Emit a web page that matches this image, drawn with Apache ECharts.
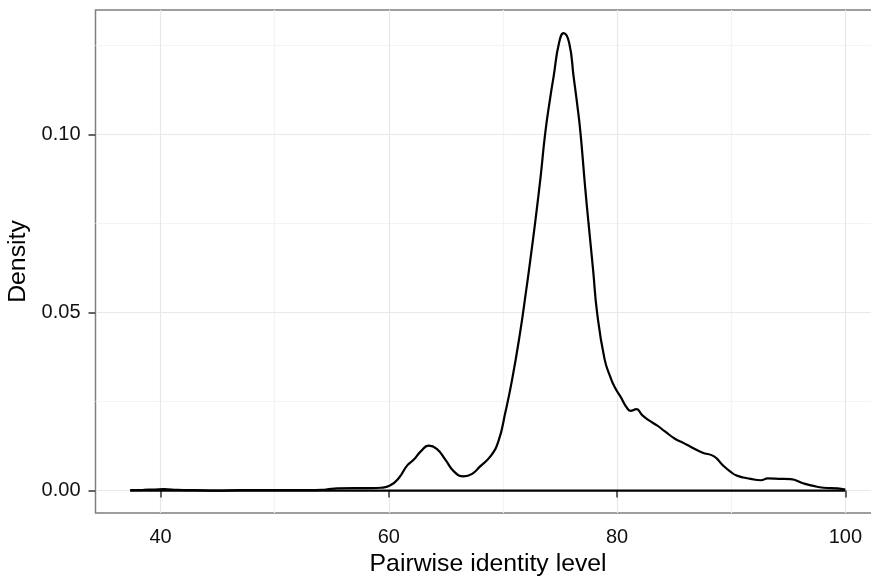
<!DOCTYPE html>
<html>
<head>
<meta charset="utf-8">
<script src="https://cdn.jsdelivr.net/npm/echarts@6/dist/echarts.min.js"></script>
<style>
html,body{margin:0;padding:0;background:#fff;}
#chart{width:871px;height:576px;}
</style>
</head>
<body>
<div id="chart"></div>
<script>
// Pairwise identity level (x) and estimated density (y)
const identityLevel = [37.34, 38.5, 39.5, 40.3, 41.5, 43, 45, 47, 49, 51, 53, 54.5, 55.5, 57, 58.5, 59.3,
  60.1, 60.9, 61.6, 62.2, 62.8, 63.5, 64.2, 64.95, 65.7, 66.55, 67.3, 68.0, 68.9, 69.6, 70.2, 70.8,
  71.5, 72.0, 72.4, 72.85, 73.3, 73.7, 74.15, 74.45, 74.9, 75.32, 75.8, 76.2, 76.5, 76.8,
  77.2, 77.5, 77.9, 78.25, 78.9, 79.4, 79.8, 80.3, 80.87, 81.17, 81.7, 82.2, 82.8, 83.5, 84.2, 85.1,
  85.8, 86.4, 87.45, 88.5, 89.3, 89.9, 90.5, 91.7, 92.6, 93.2, 94.2, 95.2, 96.35, 97.2, 98.1, 99.3, 100];
const density = [0.0001, 0.0002, 0.0003, 0.0004, 0.0002, 0.0001, 0.0000, 0.0001, 0.0001, 0.0001, 0.0001, 0.0003, 0.0006, 0.0007, 0.0007, 0.0008,
  0.0014, 0.0036, 0.0070, 0.0087, 0.0110, 0.0126, 0.0117, 0.0087, 0.0054, 0.0040, 0.0047, 0.0068, 0.0096, 0.0138, 0.0218, 0.0311,
  0.0443, 0.0554, 0.0648, 0.0760, 0.0881, 0.1003, 0.1105, 0.1165, 0.1255, 0.1285, 0.1258, 0.1161, 0.1087, 0.1003,
  0.0853, 0.0751, 0.0620, 0.0500, 0.0370, 0.0320, 0.0290, 0.0264, 0.0232, 0.0224, 0.0229, 0.0212, 0.0197, 0.0183, 0.0166, 0.0145,
  0.0134, 0.0124, 0.0107, 0.0096, 0.0070, 0.0054, 0.0042, 0.0033, 0.0029, 0.0034, 0.0033, 0.0032, 0.0020, 0.0013, 0.0008, 0.0006, 0.0003];
const xTicks = [40, 60, 80, 100];
const xMinorTicks = [50, 70, 90];
const yTicks = [0, 0.05, 0.10];
const yMinorTicks = [0.025, 0.075, 0.125];
const xRange = [34.3, 103.1];
const yRange = [-0.0063, 0.135];

const curve = identityLevel.map((x, i) => [x, density[i]]);
const baseline = [[identityLevel[0], 0], [identityLevel[identityLevel.length - 1], 0]];

const FONT = 'Liberation Sans, Arial, Helvetica, sans-serif';
const chart = echarts.init(document.getElementById('chart'), null, {renderer: 'canvas'});

function minorAxis(type, values) {
  const r = type === 'x' ? xRange : yRange;
  return {
    type: 'value', min: r[0], max: r[1], position: type === 'x' ? 'bottom' : 'left',
    axisLine: {show: false},
    axisTick: {show: false, customValues: values},
    axisLabel: {show: false, customValues: values},
    splitLine: {show: true, lineStyle: {color: '#F4F4F4', width: 1.2}},
    z: 0
  };
}

chart.setOption({
  animation: false,
  backgroundColor: '#ffffff',
  grid: {left: 95.5, top: 10, right: -9.7, bottom: 63, outerBoundsMode: 'none', containLabel: false,
    show: true, borderColor: '#7F7F7F', borderWidth: 1.5, backgroundColor: 'transparent'},
  xAxis: [{
    type: 'value', min: xRange[0], max: xRange[1], position: 'bottom',
    name: 'Pairwise identity level', nameLocation: 'middle', nameGap: 32,
    nameTextStyle: {fontFamily: FONT, fontSize: 24.8, color: '#000'},
    axisLine: {show: false},
    axisTick: {show: true, length: 7, customValues: xTicks, lineStyle: {color: '#333', width: 1.5}},
    axisLabel: {show: true, customValues: xTicks, margin: 14, fontFamily: FONT, fontSize: 20, color: '#111'},
    splitLine: {show: true, lineStyle: {color: '#E8E8E8', width: 1.2}},
    z: 1
  }, minorAxis('x', xMinorTicks)],
  yAxis: [{
    type: 'value', min: yRange[0], max: yRange[1], position: 'left',
    name: 'Density', nameLocation: 'middle', nameGap: 55, nameRotate: 90,
    nameTextStyle: {fontFamily: FONT, fontSize: 24.8, color: '#000'},
    axisLine: {show: false},
    axisTick: {show: true, length: 7, customValues: yTicks, lineStyle: {color: '#333', width: 1.5}},
    axisLabel: {show: true, customValues: yTicks, margin: 15, fontFamily: FONT, fontSize: 20, color: '#111',
      formatter: v => Number(v).toFixed(2)},
    splitLine: {show: true, lineStyle: {color: '#E8E8E8', width: 1.2}},
    z: 1
  }, minorAxis('y', yMinorTicks)],
  series: [{
    type: 'line', data: curve, xAxisIndex: 0, yAxisIndex: 0,
    showSymbol: false, smooth: 0.5,
    lineStyle: {color: '#000', width: 2.2}, z: 5
  }, {
    type: 'line', data: baseline, xAxisIndex: 0, yAxisIndex: 0,
    showSymbol: false, smooth: false,
    lineStyle: {color: '#000', width: 2.2}, z: 5
  }]
});
</script>
</body>
</html>
